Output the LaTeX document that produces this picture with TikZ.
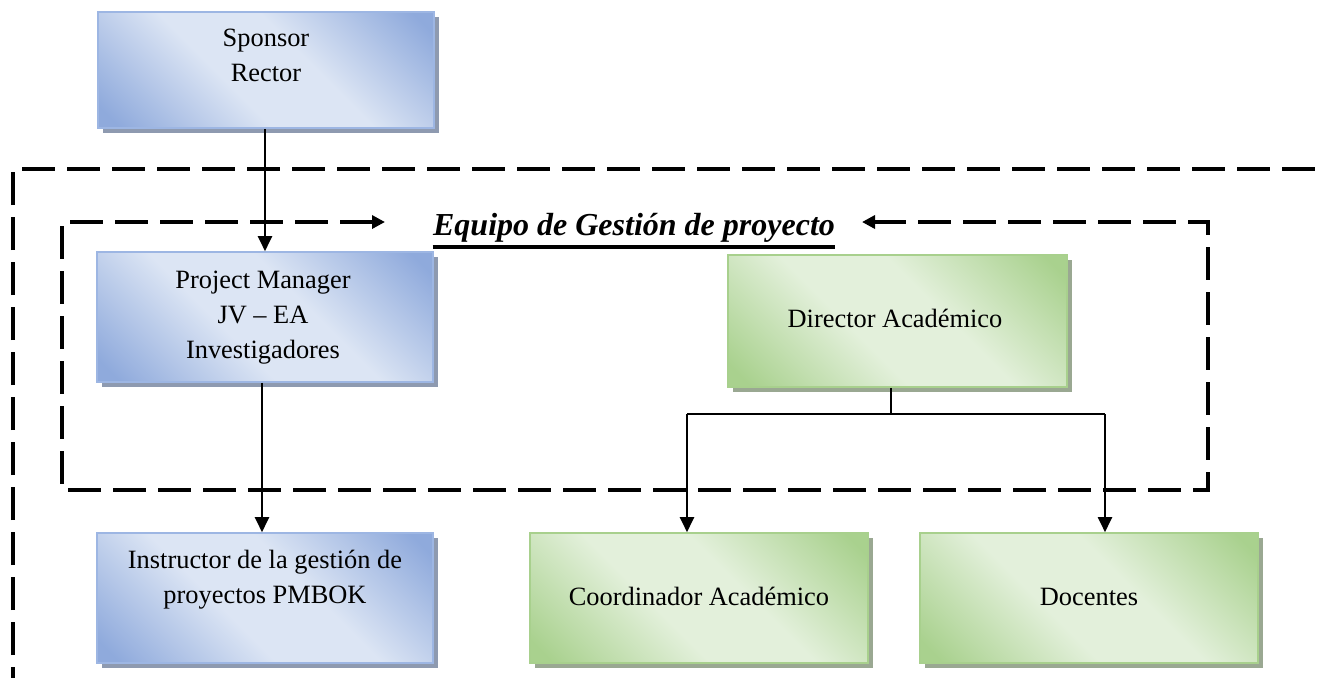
\documentclass[tikz,border=0pt]{standalone}
\usepackage{fontspec}
\setmainfont{Liberation Serif}
\usetikzlibrary{arrows.meta,shadows}
\definecolor{bluedark}{HTML}{8FAADC}
\definecolor{bluelight}{HTML}{DCE5F4}
\definecolor{blueborder}{HTML}{9DB6E3}
\definecolor{blueshadow}{HTML}{8E9AB0}
\definecolor{greendark}{HTML}{A9D18E}
\definecolor{greenlight}{HTML}{E3F0DB}
\definecolor{greenborder}{HTML}{A8D08D}
\definecolor{greenshadow}{HTML}{9AA892}
\pgfdeclareverticalshading{bluegrad}{100bp}{color(0bp)=(bluedark); color(18bp)=(bluedark); color(42bp)=(bluelight); color(58bp)=(bluelight); color(82bp)=(bluedark); color(100bp)=(bluedark)}
\pgfdeclareverticalshading{greengrad}{100bp}{color(0bp)=(greendark); color(18bp)=(greendark); color(42bp)=(greenlight); color(58bp)=(greenlight); color(82bp)=(greendark); color(100bp)=(greendark)}
\begin{document}
\begin{tikzpicture}[x=0.5pt,y=-0.5pt,
  box/.style={rectangle, line width=0.8pt, minimum width=168pt, minimum height=65pt, inner sep=0pt, shade, shading angle=-45},
  bluebox/.style={box, shading=bluegrad, draw=blueborder, drop shadow={shadow xshift=2.5pt, shadow yshift=-2.5pt, fill=blueshadow, opacity=1}},
  greenbox/.style={box, shading=greengrad, draw=greenborder, drop shadow={shadow xshift=2.5pt, shadow yshift=-2.5pt, fill=greenshadow, opacity=1}},
  lbl/.style={inner sep=0pt, align=center, font=\fontsize{13.2pt}{17.4pt}\selectfont},
  titlef/.style={inner sep=0pt, font=\fontsize{16pt}{18pt}\selectfont\bfseries\itshape},
  conn/.style={line width=1pt, -{Triangle[length=7.5pt,width=7pt]}},
  stemline/.style={line width=1pt},
  branchline/.style={line width=0.7pt},
  bigdash/.style={line width=2pt, dash pattern=on 16.5pt off 6pt},
  dashtip/.style={{Triangle[length=6.5pt,width=6.5pt]}-{Triangle[length=6.5pt,width=6.5pt]}}
]
\useasboundingbox (0,0) rectangle (1317,677);
\clip (0,0) rectangle (1317,677);

% outer dashed frame
\coordinate (obl) at (13,700);
\coordinate (otl) at (13,169);
\coordinate (otr) at (1340,169);
\draw[bigdash] (obl) -- (otl) -- (otr);

% title
\node[titlef, anchor=base] (title) at (634,235) {Equipo de Gestión de proyecto};
\draw[line width=1.6pt] ([yshift=-6pt]title.base west) -- ([yshift=-6pt]title.base east);

% inner dashed frame with arrows
\coordinate (la) at (385,222);
\coordinate (ra) at (862,222);
\coordinate (itl) at (62,222);
\coordinate (ibl) at (62,490);
\coordinate (ibr) at (1208,490);
\coordinate (itr) at (1208,222);
\draw[bigdash, dashtip] (la) -- (itl) -- (ibl) -- (ibr) -- (itr) -- (ra);

% boxes
\node[bluebox, minimum width=168pt, minimum height=58pt] (sponsor) at (266,70) {};
\node[bluebox] (pm) at (265,317) {};
\node[bluebox] (instr) at (265,598) {};
\node[greenbox, minimum width=169.5pt, minimum height=66pt] (director) at (897.5,321) {};
\node[greenbox, minimum width=169pt] (coord) at (699,598) {};
\node[greenbox, minimum width=169pt] (docentes) at (1089,598) {};

% texts
\node[lbl, anchor=north] (sponsorT) at (266,29) {Sponsor\\Rector};
\node[lbl, anchor=north] (pmT) at (263,271) {Project Manager\\JV – EA\\Investigadores};
\node[lbl, anchor=north] (instrT) at (265,550) {Instructor de la gestión de\\proyectos PMBOK};
\node[lbl, anchor=base] (directorT) at (895,327) {Director Académico};
\node[lbl, anchor=base] (coordT) at (699,605) {Coordinador Académico};
\node[lbl, anchor=base] (docentesT) at (1089,605) {Docentes};

% connectors
\coordinate (sx) at (265,0);
\draw[conn] (sx |- sponsor.south) -- (sx |- pm.north);
\coordinate (px) at (262,0);
\draw[conn] (px |- pm.south) -- (px |- instr.north);
\coordinate (dstem) at (891,414);
\coordinate (tl) at (687,414);
\coordinate (tr) at (1105,414);
\draw[stemline] (dstem |- director.south) -- (dstem);
\draw[branchline] (tl) -- (tr);
\draw[conn] (tl) -- (tl |- coord.north);
\draw[conn] (tr) -- (tr |- docentes.north);
\end{tikzpicture}
\end{document}
